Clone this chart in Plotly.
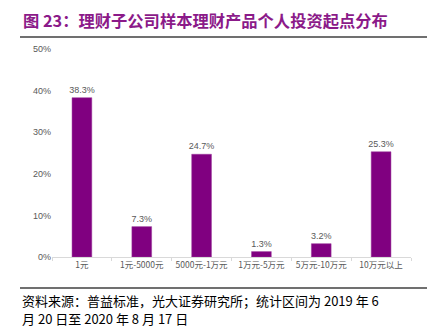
import plotly.graph_objects as go

categories = ["1元", "1元-5000元", "5000元-1万元", "1万元-5万元", "5万元-10万元", "10万元以上"]
values = [38.3, 7.3, 24.7, 1.3, 3.2, 25.3]
labels = [f"{v:.1f}%" for v in values]
yticks = [0, 10, 20, 30, 40, 50]
ytick_text = [f"{t}%" for t in yticks]

title_text = "图 23：理财子公司样本理财产品个人投资起点分布"
source_line1 = "资料来源：普益标准，光大证券研究所；统计区间为 2019 年 6"
source_line2 = "月 20 日至 2020 年 8 月 17 日"

W, H = 437, 327
L, R, T, B = 52, 26, 49, 70
pw, ph = W - L - R, H - T - B

def px_x(x):
    return (x - L) / pw

def px_y(y):
    return (H - B - y) / ph

fig = go.Figure(go.Bar(
    x=categories, y=values, text=labels, textposition="outside",
    constraintext="none",
    textfont=dict(size=9, color="#595959", family="Liberation Sans, Arial"),
    marker=dict(color="#800080", line=dict(color="#9a3b9a", width=0.5)),
    width=0.33, cliponaxis=False,
))

fig.update_layout(
    width=W, height=H, margin=dict(l=L, r=R, t=T, b=B),
    paper_bgcolor="white", plot_bgcolor="white", showlegend=False,
    font=dict(family="Noto Sans CJK SC", color="#595959"),
)
fig.update_yaxes(range=[0, 50], tickvals=yticks, ticktext=ytick_text, showgrid=False,
                 zeroline=False, showline=False,
                 tickfont=dict(size=9, color="#595959", family="Liberation Sans, Arial"))
fig.update_xaxes(showline=True, linecolor="#d9d9d9", linewidth=1, ticks="outside",
                 tickson="boundaries", ticklen=3, tickcolor="#d9d9d9", tickangle=0,
                 tickfont=dict(size=8.5, color="#595959", family="Noto Sans CJK SC"))

fig.add_annotation(text=f"<b>{title_text}</b>", xref="paper", yref="paper",
                   x=px_x(21), y=px_y(20), xanchor="left", yanchor="middle", showarrow=False,
                   font=dict(size=16.3, color="#8B1A89", family="Noto Sans CJK SC"))
fig.add_shape(type="line", xref="paper", yref="paper", x0=px_x(20), x1=px_x(427),
              y0=px_y(37), y1=px_y(37), line=dict(color="#404040", width=1.5))
fig.add_shape(type="line", xref="paper", yref="paper", x0=px_x(20), x1=px_x(427),
              y0=px_y(288), y1=px_y(288), line=dict(color="#404040", width=1.5))
fig.add_annotation(text=source_line1, xref="paper", yref="paper",
                   x=px_x(20), y=px_y(300), xanchor="left", yanchor="middle",
                   showarrow=False,
                   font=dict(size=13, color="#000000", family="Noto Sans CJK SC"))
fig.add_annotation(text=source_line2, xref="paper", yref="paper",
                   x=px_x(20), y=px_y(318), xanchor="left", yanchor="middle",
                   showarrow=False,
                   font=dict(size=13, color="#000000", family="Noto Sans CJK SC"))

fig.write_html("out.html")
